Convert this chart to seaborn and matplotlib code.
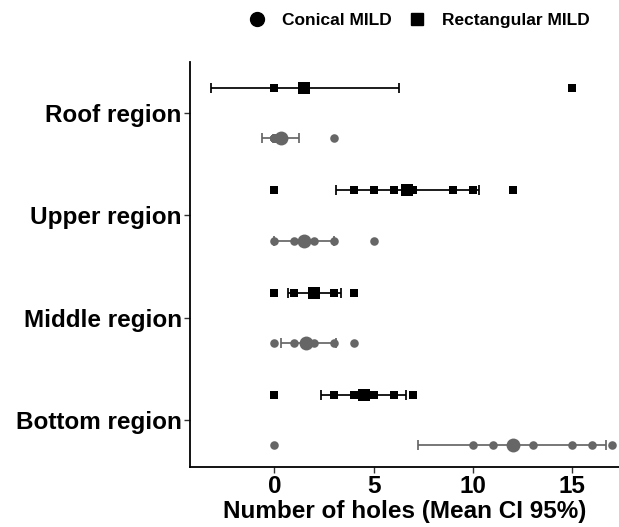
import numpy as np
import pandas as pd
import seaborn as sns
import matplotlib.pyplot as plt
from matplotlib.lines import Line2D

# regions from top to bottom
regions = ["Roof region", "Upper region", "Middle region", "Bottom region"]
molds = ["Rectangular MILD", "Conical MILD"]

rect_roof = [0, 0, 0, 0, 0, 0, 0, 0, 0, 15]
rect_upper = [0, 4, 5, 6, 7, 9, 10, 12]
rect_middle = [0, 1, 2, 3, 4]
rect_bottom = [0, 3, 4, 5, 6, 7]
con_roof = [0, 0, 0, 0, 0, 0, 0, 0, 3]
con_upper = [0, 1, 2, 3, 5]
con_middle = [0, 1, 2, 3, 4]
con_bottom = [0, 10, 11, 13, 15, 16, 17]

# means and 95% CI
rect_mean = [1.5, 6.7, 2.0, 4.5]
rect_lo = [-3.2, 3.1, 0.7, 2.35]
rect_hi = [6.25, 10.3, 3.35, 6.65]
con_mean = [0.33, 1.5, 1.6, 12.0]
con_lo = [-0.63, 0.0, 0.33, 7.25]
con_hi = [1.26, 3.0, 3.1, 16.7]

colors = {"Rectangular MILD": "black", "Conical MILD": "#666666"}
markers = {"Rectangular MILD": "s", "Conical MILD": "o"}
offset = {"Rectangular MILD": -0.245, "Conical MILD": 0.245}

raw = {
    "Rectangular MILD": [rect_roof, rect_upper, rect_middle, rect_bottom],
    "Conical MILD": [con_roof, con_upper, con_middle, con_bottom],
}
rows = []
for m in molds:
    for i, vals in enumerate(raw[m]):
        for v in vals:
            rows.append({"region": regions[i], "mold": m, "holes": v})
df = pd.DataFrame(rows)
df["ypos"] = df["region"].map({r: i for i, r in enumerate(regions)}) + df["mold"].map(offset)

summ = pd.DataFrame({
    "region": regions * 2,
    "mold": ["Rectangular MILD"] * 4 + ["Conical MILD"] * 4,
    "mean": rect_mean + con_mean,
    "lo": rect_lo + con_lo,
    "hi": rect_hi + con_hi,
})
summ["ypos"] = summ["region"].map({r: i for i, r in enumerate(regions)}) + summ["mold"].map(offset)

sns.set_style("white")
plt.rcParams["font.family"] = ["Liberation Sans", "DejaVu Sans"]
plt.rcParams["text.color"] = "black"
plt.rcParams["axes.labelcolor"] = "black"

fig = plt.figure(figsize=(6.19, 5.27), dpi=100)
ax = fig.add_axes([0.307, 0.114, 0.693, 0.768])

for m in molds:
    s = summ[summ["mold"] == m]
    ax.errorbar(s["mean"], s["ypos"], xerr=[s["mean"] - s["lo"], s["hi"] - s["mean"]],
                fmt="none", ecolor=colors[m], elinewidth=1.25, capsize=3.8, capthick=1.25, zorder=2)
    sns.scatterplot(data=df[df["mold"] == m], x="holes", y="ypos", color=colors[m],
                    marker=markers[m], s=28 if m == "Rectangular MILD" else 38,
                    linewidth=0, ax=ax, legend=False, zorder=3)
    sns.scatterplot(data=s, x="mean", y="ypos", color=colors[m], marker=markers[m],
                    s=85 if m == "Rectangular MILD" else 100, linewidth=0, ax=ax,
                    legend=False, zorder=4)

ax.set_xlim(-4.245, 17.35)
ax.set_ylim(3.46, -0.5)
ax.set_yticks(range(len(regions)))
ax.set_yticklabels(regions, fontsize=17.5, fontweight="bold", color="black")
ax.set_xticks([0, 5, 10, 15])
ax.set_xticklabels(["0", "5", "10", "15"], fontsize=17.5, fontweight="bold", color="black")
ax.set_xlabel("Number of holes (Mean CI 95%)", fontsize=17.5, fontweight="bold",
              color="black", labelpad=1)
ax.set_ylabel("")
ax.tick_params(axis="both", length=4, width=1, color="#333333", pad=2)
ax.tick_params(axis="both", which="major", bottom=True, left=True)
for side in ["top", "right"]:
    ax.spines[side].set_visible(False)
for side in ["left", "bottom"]:
    ax.spines[side].set_color("black")
    ax.spines[side].set_linewidth(1.3)

handles = [Line2D([], [], marker="o", color="black", linestyle="none", markersize=10),
           Line2D([], [], marker="s", color="black", linestyle="none", markersize=9)]
fig.legend(handles, ["Conical MILD", "Rectangular MILD"], loc="center", ncol=2,
           bbox_to_anchor=(0.677, 0.962), frameon=False, handlelength=1,
           handletextpad=0.94, columnspacing=0.94,
           prop={"size": 12.5, "weight": "bold"}, labelcolor="black")

fig.savefig("out.png", dpi=100)
